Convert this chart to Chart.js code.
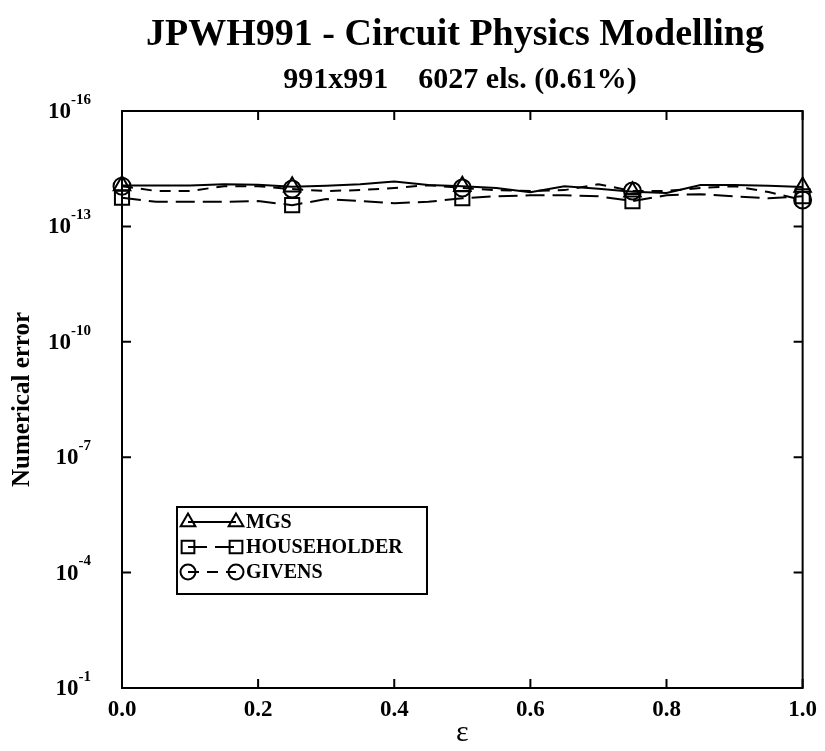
<!DOCTYPE html>
<html>
<head>
<meta charset="utf-8">
<script src="https://cdn.jsdelivr.net/npm/chart.js@4.4.0/dist/chart.umd.min.js"></script>
<style>
  html, body { margin: 0; padding: 0; background: #fff; }
  #wrap { width: 825px; height: 751px; position: relative; }
</style>
</head>
<body>
<div id="wrap"><canvas id="chart"></canvas></div>
<script>
'use strict';

// values
const epsilon = [0, 0.05, 0.1, 0.15, 0.2, 0.25, 0.3, 0.35, 0.4, 0.45, 0.5,
                 0.55, 0.6, 0.65, 0.7, 0.75, 0.8, 0.85, 0.9, 0.95, 1.0];
const mgs = [8.6e-15, 8.6e-15, 8.6e-15, 8.0e-15, 8.3e-15, 9.3e-15, 8.8e-15, 8.0e-15, 6.8e-15, 8.4e-15, 9.0e-15,
             1.0e-14, 1.3e-14, 9.0e-15, 1.05e-14, 1.25e-14, 1.35e-14, 8.4e-15, 8.4e-15, 8.8e-15, 9.4e-15];
const householder = [1.8e-14, 2.3e-14, 2.3e-14, 2.3e-14, 2.2e-14, 2.8e-14, 1.95e-14, 2.2e-14, 2.5e-14, 2.3e-14, 1.85e-14,
                     1.65e-14, 1.55e-14, 1.55e-14, 1.65e-14, 2.2e-14, 1.55e-14, 1.45e-14, 1.65e-14, 1.85e-14, 1.65e-14];
const givens = [9.0e-15, 1.2e-14, 1.2e-14, 9.0e-15, 9.0e-15, 1.07e-14, 1.2e-14, 1.14e-14, 1.0e-14, 8.5e-15, 1.0e-14,
                1.14e-14, 1.2e-14, 1.14e-14, 8.0e-15, 1.2e-14, 1.2e-14, 1.0e-14, 9.0e-15, 1.28e-14, 2.05e-14];
const seriesNames = ['MGS', 'HOUSEHOLDER', 'GIVENS'];
const xTicks = [0, 0.2, 0.4, 0.6, 0.8, 1.0];
const yTicks = [1e-16, 1e-13, 1e-10, 1e-7, 1e-4, 1e-1];

const titleText = 'JPWH991 - Circuit Physics Modelling';
const subtitleText = '991x991    6027 els. (0.61%)';

const serif = "'Liberation Serif', 'Times New Roman', serif";

function toPoints(values) {
    return values.map((v, i) => ({ x: epsilon[i], y: v }));
}

function makeSet(label, values, style, size, dash) {
    return {
        label: label,
        data: toPoints(values),
        borderColor: '#000',
        borderWidth: 2,
        borderDash: dash,
        backgroundColor: 'rgba(0,0,0,0)',
        pointStyle: style,
        markerSize: size,
        // markers only on every fifth point
        pointRadius: ctx => (ctx.dataIndex % 5 === 0 ? size : 0),
        pointBorderWidth: 2,
        pointBorderColor: '#000',
        pointBackgroundColor: 'rgba(0,0,0,0)',
        tension: 0,
        clip: false
    };
}

// frame, inward ticks, y labels with exponents, titles and the boxed legend
const decorations = {
    id: 'decorations',
    afterDatasetsDraw(chart) {
        const { ctx, chartArea: a, scales } = chart;
        ctx.save();
        ctx.strokeStyle = '#000';
        ctx.lineWidth = 2;
        ctx.setLineDash([]);
        ctx.strokeRect(a.left, a.top, a.right - a.left, a.bottom - a.top);

        const tl = 9;
        ctx.beginPath();
        yTicks.forEach(v => {
            const y = scales.y.getPixelForValue(v);
            ctx.moveTo(a.left, y); ctx.lineTo(a.left + tl, y);
            ctx.moveTo(a.right, y); ctx.lineTo(a.right - tl, y);
        });
        xTicks.forEach(v => {
            const x = scales.x.getPixelForValue(v);
            ctx.moveTo(x, a.bottom); ctx.lineTo(x, a.bottom - tl);
            ctx.moveTo(x, a.top); ctx.lineTo(x, a.top + tl);
        });
        ctx.stroke();

        // y tick labels: 10 with a raised exponent
        ctx.fillStyle = '#000';
        ctx.textBaseline = 'middle';
        ctx.textAlign = 'left';
        yTicks.forEach(v => {
            const y = scales.y.getPixelForValue(v);
            const sup = String(Math.round(Math.log10(v)));
            ctx.font = 'bold 15px ' + serif;
            const supW = ctx.measureText(sup).width;
            const supX = 91 - supW;
            ctx.fillText(sup, supX, y - 11);
            ctx.font = 'bold 23px ' + serif;
            const baseW = ctx.measureText('10').width;
            ctx.fillText('10', supX - baseW, y + 1);
        });

        // titles
        ctx.textAlign = 'center';
        ctx.font = 'bold 38px ' + serif;
        ctx.fillText(titleText, 455, 35);
        ctx.font = 'bold 30px ' + serif;
        ctx.fillText(subtitleText, 460, 80);

        // legend
        const box = { left: 177, top: 507, width: 250, height: 87 };
        ctx.fillStyle = '#fff';
        ctx.fillRect(box.left, box.top, box.width, box.height);
        ctx.strokeRect(box.left, box.top, box.width, box.height);
        const rows = [522, 547, 572];
        const x1 = 188, x2 = 236;
        chart.data.datasets.forEach((ds, i) => {
            const y = rows[i];
            ctx.setLineDash(ds.borderDash || []);
            ctx.beginPath();
            ctx.moveTo(x1, y);
            ctx.lineTo(x2, y);
            ctx.stroke();
            ctx.setLineDash([]);
            ctx.fillStyle = 'rgba(0,0,0,0)';
            const opts = { pointStyle: ds.pointStyle, radius: ds.markerSize - 1, borderWidth: 2, rotation: 0 };
            Chart.helpers.drawPoint(ctx, opts, x1, y);
            Chart.helpers.drawPoint(ctx, opts, x2, y);
            ctx.fillStyle = '#000';
            ctx.textAlign = 'left';
            ctx.font = 'bold 20px ' + serif;
            ctx.fillText(ds.label, x2 + 10, y + 1);
        });
        ctx.restore();
    }
};

const config = {
    type: 'line',
    data: {
        datasets: [
            makeSet(seriesNames[0], mgs, 'triangle', 9.5, []),
            makeSet(seriesNames[1], householder, 'rect', 10, [19, 8]),
            makeSet(seriesNames[2], givens, 'circle', 8.5, [11, 8])
        ]
    },
    options: {
        responsive: true,
        maintainAspectRatio: false,
        animation: false,
        layout: {
            padding: { top: 111, right: 20, left: 0, bottom: 0 }
        },
        plugins: {
            legend: { display: false },
            tooltip: { enabled: false }
        },
        scales: {
            x: {
                type: 'linear',
                min: 0,
                max: 1,
                afterBuildTicks: scale => { scale.ticks = xTicks.map(v => ({ value: v })); },
                afterFit: scale => { scale.height = 63; },
                grid: { display: false, drawTicks: false },
                border: { display: false },
                ticks: {
                    padding: 8,
                    color: '#000',
                    font: { family: serif, size: 23, weight: 'bold' },
                    callback: v => Number(v).toFixed(1),
                    maxRotation: 0
                },
                title: {
                    display: true,
                    text: 'ε',
                    color: '#000',
                    font: { family: serif, size: 30 },
                    padding: { top: 0, bottom: 0 }
                }
            },
            y: {
                type: 'logarithmic',
                reverse: true,
                min: 1e-16,
                max: 1e-1,
                afterBuildTicks: scale => { scale.ticks = yTicks.map(v => ({ value: v })); },
                afterFit: scale => { scale.width = 122; },
                grid: { display: false, drawTicks: false },
                border: { display: false },
                ticks: { display: false },
                title: {
                    display: true,
                    text: 'Numerical error',
                    color: '#000',
                    font: { family: serif, size: 25, weight: 'bold' },
                    padding: { top: 8, bottom: 0 }
                }
            }
        }
    },
    plugins: [decorations]
};

const chart = new Chart(document.getElementById('chart'), config);
</script>
</body>
</html>
